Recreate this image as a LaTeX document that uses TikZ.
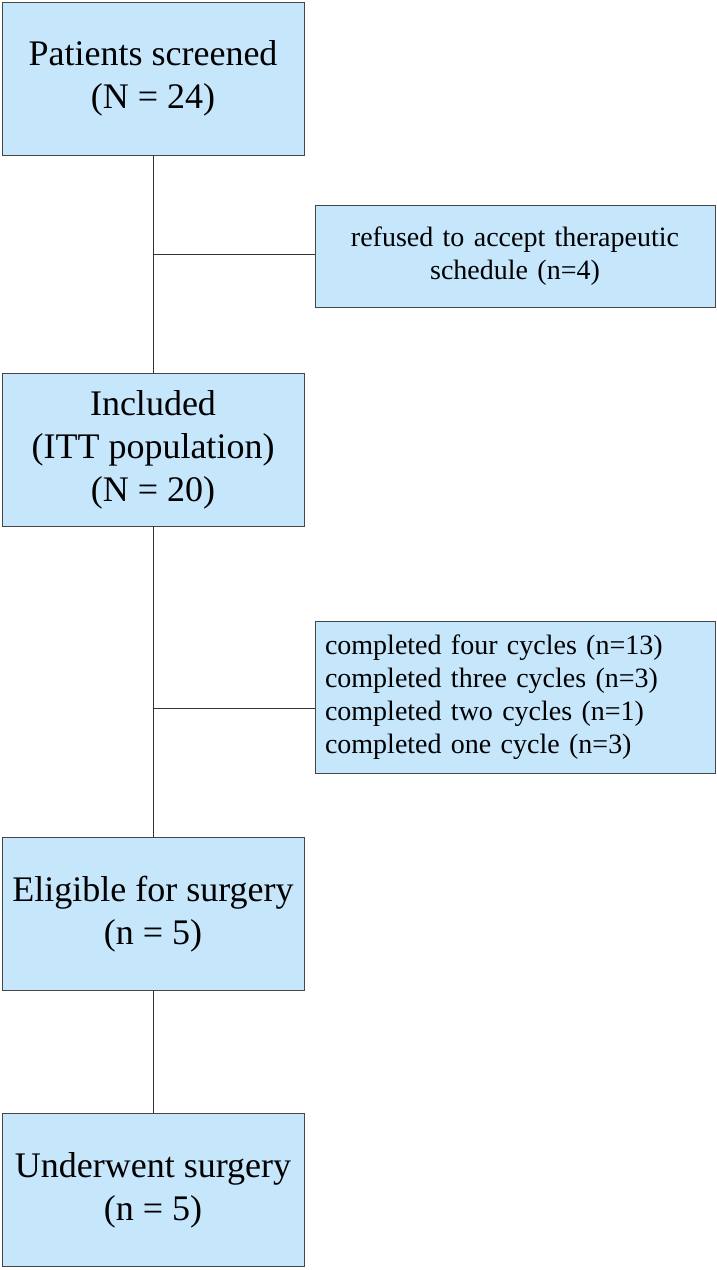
\documentclass[tikz,border=0pt]{standalone}
\usepackage{fontspec}
\setmainfont{Liberation Serif}
\usetikzlibrary{positioning}
\definecolor{boxfill}{RGB}{198,230,252}
\definecolor{boxline}{RGB}{70,70,70}
\tikzset{
  stage/.style={draw=boxline, fill=boxfill, line width=0.9pt, align=center,
                font=\fontsize{36}{43}\selectfont, minimum width=302pt,
                minimum height=153pt, inner sep=0pt},
  side/.style={draw=boxline, fill=boxfill, line width=0.9pt,
               font=\fontsize{28}{33}\selectfont, minimum width=400pt,
               text width=380pt, inner sep=0pt, inner xsep=10pt, align=#1},
  side/.default=center,
  link/.style={line width=0.8pt, black!80},
}
\begin{document}
\begin{tikzpicture}[x=1pt, y=-1pt]
  \useasboundingbox (0,0) rectangle (717,1270);
  % main column
  \node[stage] (screened) at (153,78.5) {Patients screened\\(N = 24)};
  \node[stage] (itt) at (153,449.5) {Included\\(ITT population)\\(N = 20)};
  \node[stage] (eligible) at (153,914) {Eligible for surgery\\(n = 5)};
  \node[stage] (surgery) at (153,1190) {Underwent surgery\\(n = 5)};
  \draw[link] (screened) -- (itt);
  \draw[link] (itt) -- (eligible);
  \draw[link] (eligible) -- (surgery);

  % side boxes
  \node[side, minimum height=102pt] (refused) at (515,256) {refused to accept therapeutic\\schedule (n=4)};
  \node[side=left, minimum height=152pt] (cycles) at (515,697) {completed four cycles (n=13)\\completed three cycles (n=3)\\completed two cycles (n=1)\\completed one cycle (n=3)};
  \coordinate (j1) at (153,254);
  \coordinate (j2) at (153,708);
  \draw[link] (j1) -- (j1 -| refused.west);
  \draw[link] (j2) -- (j2 -| cycles.west);
\end{tikzpicture}
\end{document}
